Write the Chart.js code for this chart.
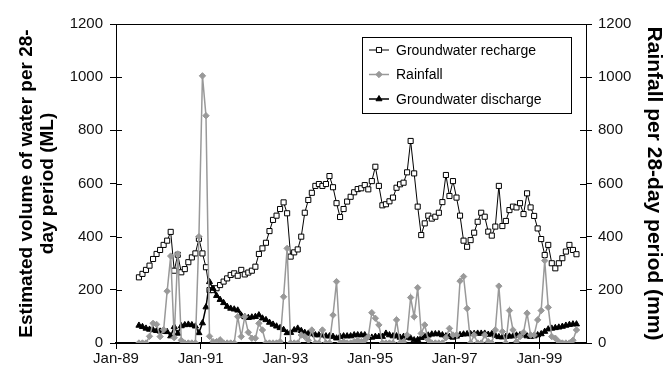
<!DOCTYPE html>
<html>
<head>
<meta charset="utf-8">
<script src="https://cdn.jsdelivr.net/npm/chart.js@4.4.1/dist/chart.umd.min.js"></script>
<style>
  html, body { margin: 0; padding: 0; background: #fff; }
  #wrap { width: 665px; height: 375px; }
</style>
</head>
<body>
<div id="wrap"><canvas id="myChart" width="665" height="375"></canvas></div>
<script>
// x is counted in months from Jan-89, first period sits in mid Jul-89
const firstPeriod = 6.5;
const xTickMonths = [0, 24, 48, 72, 96, 120];
const xTickLabels = ["Jan-89", "Jan-91", "Jan-93", "Jan-95", "Jan-97", "Jan-99"];

// ML per period
const recharge = [
  247, 260, 275, 291, 316, 335, 350, 369, 385, 418,
  272, 332, 266, 278, 304, 322, 337, 392, 337, 285,
  199, 199, 206, 218, 231, 243, 256, 262, 253, 275,
  258, 265,
  272, 287, 335, 356, 377, 421, 463, 479, 504, 529,
  488, 325, 341, 352, 400, 490, 538, 565, 591, 598,
  591, 598, 628, 586, 526, 474, 504, 532, 550, 567,
  579,
  582, 594, 578, 609, 663, 591, 518, 522, 533, 547,
  584, 597, 603, 642, 760, 638, 513, 406, 450, 479,
  468, 475, 490, 530, 632, 553, 609, 547,
  479, 385, 362, 387, 415, 456, 490, 475, 419, 404,
  438, 591, 440, 459, 500, 513, 510, 526, 485, 563,
  510, 478, 431, 391, 331, 369, 300, 281, 300, 319,
  344, 369, 350, 334
];

// mm per period (right axis)
const rainfall = [
  0, 0, 0, 25, 74, 70, 24, 50, 195, 327,
  20, 335, 10, 0, 0, 0, 0, 400, 1005, 855,
  25, 5, 5, 12, 0, 0, 0, 0, 99, 24,
  99, 40, 18, 18, 74, 49, 0, 0, 0, 0,
  5, 174, 356, 0, 0, 0, 30, 24, 10, 49,
  0, 0, 49, 0, 0, 105, 231, 0, 5, 0,
  0, 5, 10, 5, 10, 24, 114, 93, 68, 0,
  0, 0, 0, 87, 0, 5, 30, 171, 99, 208,
  36, 68, 11, 0, 0, 0, 0, 20, 55, 30,
  30, 233, 250, 130, 0, 30, 0, 0, 30, 5,
  0, 49, 214, 43, 0, 122, 49, 5, 24, 40,
  112, 30, 30, 87, 122, 310, 134, 24, 18, 5,
  0, 0, 0, 10, 49
];

// ML per period
const discharge = [
  66, 61, 55, 51, 49, 46, 44, 43, 42, 26,
  61, 36, 64, 68, 70, 68, 63, 38, 75, 135,
  230, 205, 178, 163, 151, 137, 130, 127, 123, 104,
  98, 95,
  97, 99, 105, 93, 87, 77, 70, 63, 57, 50,
  38, 39, 49, 55, 46, 39, 36, 34, 30, 30,
  30, 26, 26, 24, 18, 24, 26, 26, 26, 30,
  30, 30, 30,
  21, 21, 24, 24, 24, 36, 30, 26, 26, 21,
  24, 21, 18, 11, 12, 20, 25, 29, 33, 34,
  34, 30, 26, 24, 21, 25, 31, 33, 34, 34,
  35, 36, 36, 36,
  32, 34, 28, 23, 22, 24, 25, 26, 29, 30,
  30, 26, 24, 26, 30, 34, 43, 52, 55, 57,
  59, 62, 66, 69, 71, 71
];

const fontFamily = "'Liberation Sans', Arial, Helvetica, sans-serif";
const tickFont = { family: fontFamily, size: 15 };

const toPoints = (arr) => arr.map((v, i) => ({ x: firstPeriod + i, y: v }));

// excel style tick marks that cross the axis line, plus the top frame line
const crossTicks = {
  id: "crossTicks",
  afterDraw(chart) {
    const { ctx, chartArea: a } = chart;
    const sx = chart.scales.x, sy = chart.scales.y, sy2 = chart.scales.y2;
    ctx.save();
    ctx.strokeStyle = "#000";
    ctx.lineWidth = 1;
    ctx.beginPath();
    sx.ticks.forEach((t) => {
      const px = Math.round(sx.getPixelForValue(t.value)) + 0.5;
      ctx.moveTo(px, a.bottom);
      ctx.lineTo(px, a.bottom - 6);
    });
    sy.ticks.forEach((t) => {
      const py = Math.round(sy.getPixelForValue(t.value)) + 0.5;
      ctx.moveTo(a.left, py);
      ctx.lineTo(a.left + 6, py);
    });
    sy2.ticks.forEach((t) => {
      const py = Math.round(sy2.getPixelForValue(t.value)) + 0.5;
      ctx.moveTo(a.right, py);
      ctx.lineTo(a.right - 6, py);
    });
    const top = Math.round(a.top) + 0.5;
    ctx.moveTo(a.left, top);
    ctx.lineTo(a.right, top);
    ctx.stroke();
    ctx.restore();
  },
};

// legend box inside the plot, entries in the old excel order
const boxLegend = {
  id: "boxLegend",
  afterDraw(chart) {
    const ctx = chart.ctx;
    const order = ["Groundwater recharge", "Rainfall", "Groundwater discharge"];
    const bx = 362, by = 37, bw = 209, bh = 76;
    ctx.save();
    ctx.fillStyle = "#fff";
    ctx.fillRect(bx, by, bw, bh);
    ctx.strokeStyle = "#000";
    ctx.lineWidth = 1;
    ctx.strokeRect(bx + 0.5, by + 0.5, bw, bh);
    ctx.font = "14px " + fontFamily;
    ctx.textBaseline = "middle";
    order.forEach((name, k) => {
      const ds = chart.data.datasets.find((d) => d.label === name);
      const y = by + 13 + k * 24.5;
      ctx.strokeStyle = ds.borderColor;
      ctx.lineWidth = ds.borderWidth;
      ctx.beginPath();
      ctx.moveTo(bx + 7, y);
      ctx.lineTo(bx + 27, y);
      ctx.stroke();
      ctx.fillStyle = ds.pointBackgroundColor;
      ctx.strokeStyle = ds.pointBorderColor;
      ctx.lineWidth = ds.pointBorderWidth;
      Chart.helpers.drawPoint(ctx, { pointStyle: ds.pointStyle, radius: ds.pointRadius, borderWidth: ds.pointBorderWidth, rotation: 0 }, bx + 17, y);
      ctx.fillStyle = "#000";
      ctx.fillText(name, bx + 34, y + 1);
    });
    ctx.restore();
  },
};

new Chart("myChart", {
  type: "line",
  data: {
    datasets: [
      {
        label: "Rainfall",
        data: toPoints(rainfall),
        yAxisID: "y2",
        borderColor: "#999",
        borderWidth: 1.5,
        pointStyle: "rectRot",
        pointRadius: 3.2,
        pointBackgroundColor: "#999",
        pointBorderColor: "#999",
        pointBorderWidth: 1,
        order: 0,
      },
      {
        label: "Groundwater discharge",
        data: toPoints(discharge),
        yAxisID: "y",
        borderColor: "#000",
        borderWidth: 1.5,
        pointStyle: "triangle",
        pointRadius: 3.5,
        pointBackgroundColor: "#000",
        pointBorderColor: "#000",
        pointBorderWidth: 1,
        order: 1,
      },
      {
        label: "Groundwater recharge",
        data: toPoints(recharge),
        yAxisID: "y",
        borderColor: "#000",
        borderWidth: 1,
        pointStyle: "rect",
        pointRadius: 3.6,
        pointBackgroundColor: "#fff",
        pointBorderColor: "#000",
        pointBorderWidth: 1,
        order: 2,
      },
    ],
  },
  options: {
    responsive: false,
    animation: false,
    devicePixelRatio: 1,
    layout: { padding: { top: 24, left: 0, right: 0, bottom: 0 } },
    plugins: { legend: { display: false }, tooltip: { enabled: false } },
    scales: {
      x: {
        type: "linear",
        min: 0,
        max: 133.2,
        afterBuildTicks: (s) => {
          s.ticks = xTickMonths.map((v) => ({ value: v }));
        },
        afterFit: (s) => {
          s.height = 32;
        },
        ticks: {
          autoSkip: false,
          maxRotation: 0,
          padding: 1,
          color: "#111",
          font: tickFont,
          callback: (v, i) => xTickLabels[i],
        },
        grid: { drawOnChartArea: false, tickLength: 6, color: "#000" },
        border: { color: "#000", width: 2 },
      },
      y: {
        position: "left",
        min: 0,
        max: 1200,
        afterFit: (s) => {
          s.width = 116;
        },
        ticks: { stepSize: 200, padding: 7, color: "#111", font: tickFont, callback: (v) => String(v) },
        grid: { drawOnChartArea: false, tickLength: 6, color: "#000" },
        border: { color: "#000", width: 1 },
        title: {
          display: true,
          text: ["Estimated volume of water per 28-", "day period (ML)"],
          color: "#000",
          font: { family: fontFamily, size: 19, weight: "bold", lineHeight: 1.12 },
          padding: { top: 16, bottom: 0 },
        },
      },
      y2: {
        position: "right",
        min: 0,
        max: 1200,
        afterFit: (s) => {
          s.width = 79;
        },
        ticks: { stepSize: 200, padding: 6, color: "#111", font: tickFont, callback: (v) => String(v) },
        grid: { drawOnChartArea: false, tickLength: 6, color: "#000" },
        border: { color: "#000", width: 1 },
        title: {
          display: true,
          text: "Rainfall per 28-day period (mm)",
          color: "#000",
          font: { family: fontFamily, size: 21, weight: "bold", lineHeight: 1.1 },
          padding: { top: 0, bottom: 0 },
        },
      },
    },
  },
  plugins: [crossTicks, boxLegend],
});
</script>
</body>
</html>
